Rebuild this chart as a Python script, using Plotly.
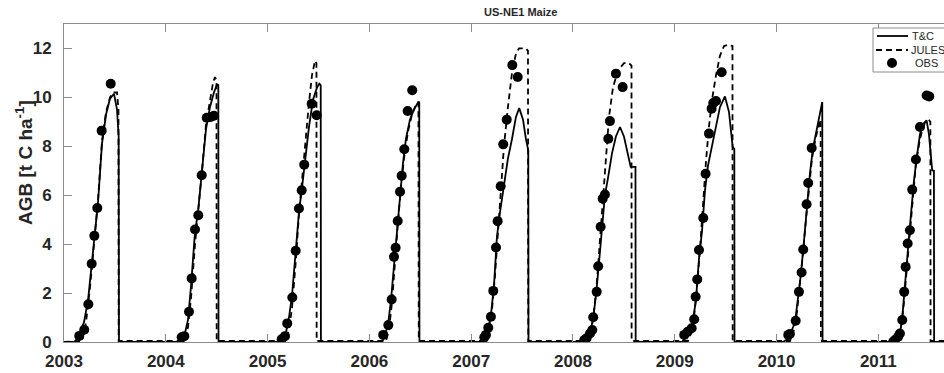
import plotly.graph_objects as go

# ---------------- data (decimal years, AGB in t C ha-1) ----------------
years = [2003, 2004, 2005, 2006, 2007, 2008, 2009, 2010, 2011]
year_labels = ["2003", "2004", "2005", "2006", "2007", "2008", "2009", "2010", "2011"]
y_ticks = [0, 2, 4, 6, 8, 10, 12]
series_names = ["T&C", "JULES", "OBS"]

tc_x = [2003.000,
        2003.108, 2003.147, 2003.196, 2003.236, 2003.275, 2003.305, 2003.334, 2003.373, 2003.413, 2003.452, 2003.491, 2003.521, 2003.537, 2003.540,
        2004.149, 2004.179, 2004.218, 2004.248, 2004.287, 2004.316, 2004.356, 2004.395, 2004.434, 2004.473, 2004.503, 2004.516, 2004.518,
        2005.151, 2005.181, 2005.210, 2005.240, 2005.279, 2005.308, 2005.338, 2005.367, 2005.407, 2005.446, 2005.485, 2005.508, 2005.522, 2005.524,
        2006.124, 2006.153, 2006.183, 2006.212, 2006.242, 2006.271, 2006.301, 2006.330, 2006.359, 2006.399, 2006.438, 2006.480, 2006.490, 2006.492,
        2007.086, 2007.126, 2007.165, 2007.194, 2007.224, 2007.253, 2007.283, 2007.322, 2007.361, 2007.401, 2007.440, 2007.472, 2007.509, 2007.538, 2007.561, 2007.563,
        2008.088, 2008.128, 2008.167, 2008.196, 2008.226, 2008.255, 2008.285, 2008.314, 2008.344, 2008.383, 2008.422, 2008.462, 2008.501, 2008.540, 2008.567, 2008.614, 2008.616,
        2009.071, 2009.110, 2009.149, 2009.179, 2009.208, 2009.238, 2009.267, 2009.297, 2009.326, 2009.366, 2009.405, 2009.444, 2009.493, 2009.533, 2009.569, 2009.585, 2009.587,
        2010.063, 2010.102, 2010.142, 2010.181, 2010.210, 2010.240, 2010.269, 2010.298, 2010.328, 2010.357, 2010.397, 2010.449, 2010.452,
        2011.153, 2011.193, 2011.222, 2011.241, 2011.261, 2011.291, 2011.320, 2011.350, 2011.379, 2011.409, 2011.438, 2011.474, 2011.497, 2011.529, 2011.546, 2011.548,
        2011.700]
tc_y = [0,
        0, 0.3, 0.8, 1.7, 3.3, 4.5, 5.7, 8.1, 9.3, 9.95, 10.15, 9.5, 8.4, 0,
        0, 0.2, 0.9, 2.3, 4.5, 5.3, 7.0, 8.7, 9.6, 10.2, 10.53, 10.5, 0,
        0, 0.4, 1.0, 1.9, 3.8, 5.3, 6.3, 7.4, 8.8, 9.9, 10.4, 10.56, 10.5, 0,
        0, 0.3, 0.7, 1.7, 3.2, 4.7, 6.0, 7.3, 8.3, 9.1, 9.5, 9.81, 9.8, 0,
        0, 0.15, 0.5, 1.1, 2.3, 4.3, 5.3, 6.5, 7.5, 8.3, 9.2, 9.56, 9.1, 8.3, 7.84, 0,
        0, 0.1, 0.4, 0.9, 1.9, 3.2, 4.6, 6.0, 6.7, 7.7, 8.4, 8.79, 8.4, 7.6, 7.16, 7.16, 0,
        0, 0.2, 0.5, 0.9, 1.7, 3.4, 4.5, 6.2, 7.2, 8.0, 8.9, 9.6, 10.04, 9.4, 7.97, 7.9, 0,
        0, 0.1, 0.4, 0.8, 1.7, 2.8, 4.1, 5.5, 6.9, 7.9, 8.8, 9.81, 0,
        0, 0.2, 0.6, 1.3, 2.4, 3.8, 5.2, 6.6, 7.6, 8.5, 8.9, 9.06, 8.5, 7.02, 7.0, 0,
        0]

jules_x = [2003.000,
           2003.177, 2003.216, 2003.255, 2003.295, 2003.334, 2003.373, 2003.413, 2003.452, 2003.481, 2003.521, 2003.535, 2003.537,
           2004.179, 2004.218, 2004.248, 2004.287, 2004.316, 2004.356, 2004.395, 2004.434, 2004.464, 2004.483, 2004.498, 2004.500,
           2005.171, 2005.210, 2005.240, 2005.279, 2005.308, 2005.338, 2005.367, 2005.407, 2005.436, 2005.466, 2005.480, 2005.482,
           2006.163, 2006.192, 2006.222, 2006.251, 2006.281, 2006.310, 2006.340, 2006.379, 2006.418, 2006.458, 2006.482, 2006.485,
           2007.145, 2007.175, 2007.204, 2007.234, 2007.263, 2007.293, 2007.322, 2007.361, 2007.401, 2007.440, 2007.470, 2007.538, 2007.558, 2007.561,
           2008.147, 2008.177, 2008.206, 2008.236, 2008.265, 2008.295, 2008.324, 2008.354, 2008.393, 2008.442, 2008.501, 2008.550, 2008.575, 2008.576,
           2009.130, 2009.159, 2009.189, 2009.218, 2009.248, 2009.277, 2009.307, 2009.336, 2009.366, 2009.405, 2009.444, 2009.484, 2009.523, 2009.567, 2009.569,
           2010.132, 2010.161, 2010.200, 2010.230, 2010.259, 2010.289, 2010.318, 2010.348, 2010.387, 2010.433, 2010.436,
           2011.173, 2011.202, 2011.232, 2011.251, 2011.281, 2011.310, 2011.340, 2011.369, 2011.409, 2011.448, 2011.500, 2011.511, 2011.513,
           2011.700]
jules_y = [0.0,
           0.04, 0.8, 2.2, 4.0, 5.8, 8.2, 9.4, 10.0, 10.2, 10.2, 9.5, 0.04,
           0.04, 0.6, 1.8, 4.0, 5.2, 7.0, 8.9, 9.9, 10.6, 10.83, 10.7, 0.04,
           0.04, 0.5, 1.4, 3.4, 5.2, 6.6, 8.0, 9.8, 10.9, 11.5, 11.4, 0.04,
           0.04, 0.5, 1.6, 3.3, 4.9, 6.3, 7.5, 8.6, 9.3, 9.7, 9.8, 0.04,
           0.04, 0.5, 1.3, 2.7, 4.6, 6.3, 8.0, 9.6, 11.0, 11.8, 12.0, 12.0, 11.9, 0.04,
           0.04, 0.4, 1.2, 2.5, 4.2, 6.0, 7.8, 9.2, 10.4, 11.1, 11.4, 11.4, 11.3, 0.04,
           0.04, 0.4, 1.0, 2.2, 3.8, 5.6, 7.4, 8.8, 9.9, 10.9, 11.7, 12.1, 12.15, 12.1, 0.04,
           0.04, 0.3, 1.2, 2.3, 3.6, 5.0, 6.4, 7.5, 8.4, 9.1, 0.04,
           0.04, 0.3, 0.8, 1.6, 3.0, 4.5, 6.0, 7.3, 8.3, 8.9, 9.06, 9.0, 0.04,
           0.04]

obs_x = [2003.150, 2003.199, 2003.239, 2003.272, 2003.298, 2003.327, 2003.370, 2003.459,
         2004.156, 2004.182, 2004.228, 2004.254, 2004.287, 2004.319, 2004.353, 2004.402, 2004.441, 2004.473,
         2005.138, 2005.171, 2005.193, 2005.243, 2005.276, 2005.308, 2005.335, 2005.360, 2005.433, 2005.482,
         2006.136, 2006.186, 2006.219, 2006.242, 2006.258, 2006.278, 2006.301, 2006.317, 2006.343, 2006.376, 2006.421,
         2007.129, 2007.145, 2007.168, 2007.194, 2007.217, 2007.244, 2007.260, 2007.290, 2007.315, 2007.349, 2007.404, 2007.457,
         2008.111, 2008.134, 2008.167, 2008.190, 2008.199, 2008.233, 2008.248, 2008.272, 2008.292, 2008.314, 2008.347, 2008.363, 2008.422, 2008.488,
         2009.093, 2009.127, 2009.166, 2009.191, 2009.205, 2009.221, 2009.238, 2009.280, 2009.303, 2009.336, 2009.362, 2009.378, 2009.405, 2009.461,
         2010.115, 2010.131, 2010.188, 2010.220, 2010.246, 2010.262, 2010.295, 2010.311, 2010.345,
         2011.146, 2011.163, 2011.195, 2011.212, 2011.235, 2011.254, 2011.268, 2011.288, 2011.310, 2011.333, 2011.369, 2011.409, 2011.474, 2011.500]
obs_y = [0.25, 0.5, 1.54, 3.2, 4.34, 5.48, 8.64, 10.56,
         0.19, 0.24, 1.24, 2.6, 4.6, 5.18, 6.82, 9.17, 9.2, 9.25,
         0.11, 0.24, 0.76, 1.82, 3.73, 5.46, 6.2, 7.25, 9.74, 9.27,
         0.29, 0.69, 1.74, 3.48, 3.85, 4.95, 6.14, 6.8, 7.88, 9.44, 10.29,
         0.19, 0.29, 0.58, 1.03, 2.09, 3.86, 4.94, 6.37, 8.08, 9.09, 11.32, 10.83,
         0.08, 0.15, 0.35, 0.49, 1.01, 2.05, 3.1, 4.71, 5.86, 6.03, 8.31, 9.03, 10.97, 10.42,
         0.29, 0.42, 0.56, 0.93, 1.85, 2.56, 3.76, 5.07, 6.88, 8.52, 9.54, 9.77, 9.85, 11.03,
         0.29, 0.33, 0.87, 2.05, 2.84, 3.78, 5.63, 6.5, 7.93,
         0.01, 0.08, 0.22, 0.35, 0.9, 2.05, 3.07, 4.03, 4.57, 6.23, 7.46, 8.79, 10.08, 10.04]

# ---------------- figure ----------------
FONT = "Liberation Sans, Arial, Helvetica, sans-serif"
AX = "#8c8c8c"
TXT = "#262626"
W, H = 944, 373
ML, MR, MT, MB = 64, 0, 24, 31
PW, PH = W - ML - MR, H - MT - MB


def px(xp):
    """pixel x -> paper fraction (legend decoration only)"""
    return (xp - ML) / PW


def py(yp):
    """pixel y -> paper fraction (legend decoration only)"""
    return (H - MB - yp) / PH


fig = go.Figure()
fig.add_trace(go.Scatter(x=tc_x, y=tc_y, mode="lines", name=series_names[0],
                         line=dict(color="black", width=1.8)))
fig.add_trace(go.Scatter(x=jules_x, y=jules_y, mode="lines", name=series_names[1],
                         line=dict(color="black", width=1.8, dash="6px,4px")))
fig.add_trace(go.Scatter(x=obs_x, y=obs_y, mode="markers", name=series_names[2],
                         marker=dict(color="black", size=10, line=dict(width=0))))

# hand-drawn legend box (matches the compact MATLAB legend)
shapes = [
    dict(type="rect", xref="paper", yref="paper", x0=px(873), x1=px(950), y0=py(72), y1=py(28),
         line=dict(color=AX, width=1), fillcolor="white", layer="above"),
    dict(type="line", xref="paper", yref="paper", x0=px(877), x1=px(908), y0=py(36), y1=py(36),
         line=dict(color="black", width=1.8), layer="above"),
    dict(type="line", xref="paper", yref="paper", x0=px(876), x1=px(908), y0=py(50), y1=py(50),
         line=dict(color="black", width=1.8, dash="6px,4px"), layer="above"),
    dict(type="circle", xref="paper", yref="paper", x0=px(887), x1=px(897), y0=py(68), y1=py(58),
         line=dict(width=0), fillcolor="black", layer="above"),
]
legend_text = [
    dict(text=series_names[0], xref="paper", yref="paper", x=px(910), y=py(36),
         xanchor="left", yanchor="middle", showarrow=False,
         font=dict(family=FONT, size=11, color=TXT)),
    dict(text=series_names[1], xref="paper", yref="paper", x=px(909), y=py(50),
         xanchor="left", yanchor="middle", showarrow=False,
         font=dict(family=FONT, size=11, color=TXT)),
    dict(text=series_names[2], xref="paper", yref="paper", x=px(913), y=py(63),
         xanchor="left", yanchor="middle", showarrow=False,
         font=dict(family=FONT, size=11, color=TXT)),
]

fig.update_layout(
    width=W, height=H,
    margin=dict(l=ML, r=MR, t=MT, b=MB, autoexpand=False),
    paper_bgcolor="white", plot_bgcolor="white",
    showlegend=False,
    shapes=shapes,
    annotations=[
        dict(text="US-NE1 Maize", xref="paper", yref="paper", x=px(520), y=py(12),
             xanchor="center", yanchor="middle", showarrow=False,
             font=dict(family=FONT, size=11, color=TXT, weight="bold")),
        dict(text="AGB [t C ha<sup>-1</sup>]", xref="paper", yref="paper",
             x=px(24), y=py(163), xanchor="center", yanchor="middle", textangle=-90,
             showarrow=False, font=dict(family=FONT, size=19, color=TXT, weight="bold")),
    ] + legend_text,
)
fig.update_xaxes(range=[2003, 2011.645], tickvals=years, ticktext=year_labels,
                 showline=True, linecolor=AX, linewidth=1, mirror="ticks",
                 ticks="inside", ticklen=8, tickcolor=AX, tickwidth=1,
                 showgrid=False, zeroline=False, ticklabelstandoff=4,
                 tickfont=dict(family=FONT, size=17, color=TXT, weight="bold"))
fig.update_yaxes(range=[0, 13], tickvals=y_ticks,
                 showline=True, linecolor=AX, linewidth=1,
                 ticks="inside", ticklen=8, tickcolor=AX, tickwidth=1,
                 showgrid=False, zeroline=False, ticklabelstandoff=8,
                 tickfont=dict(family=FONT, size=17, color=TXT, weight="bold"))

fig.write_html("out.html")
